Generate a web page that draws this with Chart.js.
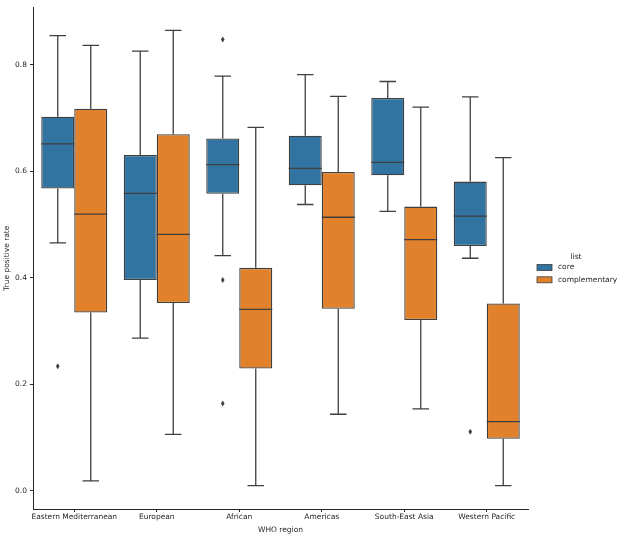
<!DOCTYPE html>
<html>
<head>
<meta charset="utf-8">
<script src="https://cdn.jsdelivr.net/npm/chart.js@4/dist/chart.umd.min.js"></script>
<style>
html,body{margin:0;padding:0;background:#fff;}
#wrap{width:618px;height:538px;position:relative;}
</style>
</head>
<body>
<div id="wrap"><canvas id="c" width="618" height="538"></canvas></div>
<script>
const categories = ['Eastern Mediterranean','European','African','Americas','South-East Asia','Western Pacific'];
const seriesNames = ['core','complementary'];
const seriesColors = ['#3274a1','#e1812c'];
const yTicks = [0.0, 0.2, 0.4, 0.6, 0.8];

const coreLow     = [0.466, 0.287, 0.442, 0.538, 0.525, 0.437];
const coreQ1      = [0.568, 0.396, 0.558, 0.574, 0.593, 0.460];
const coreMedian  = [0.652, 0.559, 0.613, 0.606, 0.617, 0.516];
const coreQ3      = [0.703, 0.631, 0.662, 0.667, 0.738, 0.581];
const coreHigh    = [0.855, 0.826, 0.779, 0.782, 0.769, 0.740];
const coreOutliers = [[0.234], [], [0.848, 0.396, 0.164], [], [], [0.111]];

const compLow     = [0.019, 0.106, 0.010, 0.144, 0.154, 0.010];
const compQ1      = [0.335, 0.353, 0.230, 0.342, 0.321, 0.098];
const compMedian  = [0.520, 0.482, 0.341, 0.514, 0.472, 0.130];
const compQ3      = [0.718, 0.670, 0.419, 0.599, 0.534, 0.352];
const compHigh    = [0.837, 0.865, 0.683, 0.741, 0.721, 0.626];
const compOutliers = [[], [], [], [], [], []];

const stats = [
  {low: coreLow, q1: coreQ1, med: coreMedian, q3: coreQ3, high: coreHigh, out: coreOutliers},
  {low: compLow, q1: compQ1, med: compMedian, q3: compQ3, high: compHigh, out: compOutliers}
];

const EDGE = '#3f3f3f';
const FONT = '"DejaVu Sans", sans-serif';
const TXT = '#262626';

const boxPlugin = {
  id: 'boxParts',
  afterDatasetsDraw(chart) {
    const ctx = chart.ctx;
    const ys = chart.scales.y;
    ctx.save();
    ctx.strokeStyle = EDGE;
    ctx.lineWidth = 1.3;
    stats.forEach((s, d) => {
      const meta = chart.getDatasetMeta(d);
      meta.data.forEach((el, i) => {
        const x = el.x, w = el.width;
        const pLow = ys.getPixelForValue(s.low[i]);
        const pQ1 = ys.getPixelForValue(s.q1[i]);
        const pMed = ys.getPixelForValue(s.med[i]);
        const pQ3 = ys.getPixelForValue(s.q3[i]);
        const pHigh = ys.getPixelForValue(s.high[i]);
        const cap = w * 0.25;
        ctx.beginPath();
        ctx.moveTo(x, pQ3); ctx.lineTo(x, pHigh);
        ctx.moveTo(x - cap, pHigh); ctx.lineTo(x + cap, pHigh);
        ctx.moveTo(x, pQ1); ctx.lineTo(x, pLow);
        ctx.moveTo(x - cap, pLow); ctx.lineTo(x + cap, pLow);
        ctx.moveTo(x - w / 2, pMed); ctx.lineTo(x + w / 2, pMed);
        ctx.stroke();
        ctx.fillStyle = EDGE;
        s.out[i].forEach(v => {
          const py = ys.getPixelForValue(v);
          ctx.beginPath();
          ctx.moveTo(x, py - 3);
          ctx.lineTo(x + 1.8, py);
          ctx.lineTo(x, py + 3);
          ctx.lineTo(x - 1.8, py);
          ctx.closePath();
          ctx.fill();
        });
      });
    });
    ctx.restore();
  },
  afterDraw(chart) {
    const ctx = chart.ctx;
    ctx.save();
    ctx.font = '7.5px ' + FONT;
    ctx.fillStyle = TXT;
    ctx.textAlign = 'center';
    ctx.textBaseline = 'middle';
    ctx.fillText('list', 576, 257);
    ctx.textAlign = 'left';
    seriesNames.forEach((n, k) => {
      const yy = 267.5 + k * 12.3;
      ctx.fillStyle = seriesColors[k];
      ctx.fillRect(537, yy - 3, 15, 6);
      ctx.strokeStyle = EDGE;
      ctx.lineWidth = 0.8;
      ctx.strokeRect(537, yy - 3, 15, 6);
      ctx.fillStyle = TXT;
      ctx.fillText(n, 558, yy);
    });
    ctx.restore();
  }
};

new Chart(document.getElementById('c'), {
  type: 'bar',
  data: {
    labels: categories,
    datasets: seriesNames.map((n, d) => ({
      label: n,
      data: categories.map((c, i) => [stats[d].q1[i], stats[d].q3[i]]),
      backgroundColor: seriesColors[d],
      borderColor: EDGE,
      borderWidth: 1.3,
      borderSkipped: false,
      categoryPercentage: 0.8,
      barPercentage: 1.0
    }))
  },
  options: {
    responsive: false,
    animation: false,
    layout: {padding: {top: 5, right: 90, left: 0, bottom: 0}},
    plugins: {legend: {display: false}, tooltip: {enabled: false}},
    scales: {
      x: {
        afterFit(s) { s.height = 29; },
        grid: {display: true, drawOnChartArea: false, drawTicks: true, tickLength: 3, offset: false, color: TXT, lineWidth: 1},
        border: {display: true, color: TXT, width: 1},
        ticks: {font: {family: FONT, size: 7.5}, color: TXT, padding: 1, maxRotation: 0, autoSkip: false},
        title: {display: true, text: 'WHO region', font: {family: FONT, size: 7.5}, color: TXT, padding: {top: 1, bottom: 3}}
      },
      y: {
        min: -0.034,
        max: 0.908,
        afterFit(s) { s.width = 33; },
        afterBuildTicks(s) { s.ticks = yTicks.map(v => ({value: v})); },
        grid: {display: true, drawOnChartArea: false, drawTicks: true, tickLength: 3, color: TXT, lineWidth: 1},
        border: {display: true, color: TXT, width: 1},
        ticks: {font: {family: FONT, size: 7.5}, color: TXT, padding: 3, callback: v => Number(v).toFixed(1)},
        title: {display: true, text: 'True positive rate', font: {family: FONT, size: 7.5}, color: TXT, padding: {top: 3, bottom: 2}}
      }
    }
  },
  plugins: [boxPlugin]
});
</script>
</body>
</html>
